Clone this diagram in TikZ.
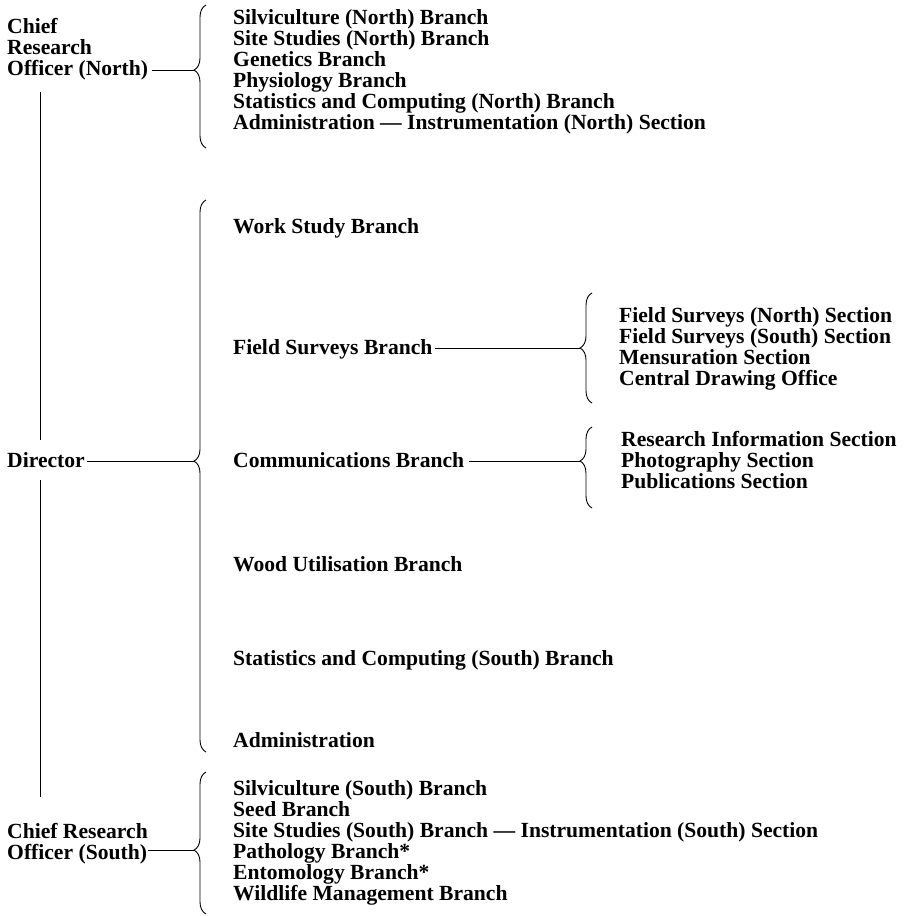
\documentclass[tikz,border=0pt]{standalone}
\usepackage{fontspec}
\setmainfont{Liberation Serif}
\usetikzlibrary{decorations.pathreplacing}
\begin{document}
\begin{tikzpicture}[x=1pt,y=-1pt,
  lbl/.style={anchor=base west,inner sep=0pt,font=\bfseries\fontsize{21.6}{21.6}\selectfont},
  conn/.style={line width=0.9pt},
  bracestyle/.style={line width=0.9pt,decorate,decoration={brace,amplitude=12pt,aspect=#1}}
]
\fill[white] (0,0) rectangle (903,916);
\useasboundingbox (0,0) rectangle (903,916);

% Chief Research Officer (North)
\node[lbl] (cn1) at (7,33) {Chief};
\node[lbl] (cn2) at (7,54) {Research};
\node[lbl] (cn3) at (7,75) {Officer (North)};
\foreach \t [count=\i] in {Silviculture (North) Branch,Site Studies (North) Branch,Genetics Branch,Physiology Branch,Statistics and Computing (North) Branch,Administration — Instrumentation (North) Section}
  \node[lbl] (nl\i) at (233,{24+21*(\i-1)}) {\t};
\coordinate (nbTop) at (206,5);
\coordinate (nbBot) at (206,148);
\coordinate (nbTip) at (194,70);
\draw[bracestyle=0.545] (nbBot) -- (nbTop);
\draw[conn] ([xshift=4pt]cn3.east |- nbTip) -- (nbTip);

% Director
\node[lbl] (dir) at (7,467) {Director};
\coordinate (v1) at (40,92);
\coordinate (v2) at (40,440);
\coordinate (v3) at (40,480);
\coordinate (v4) at (40,797);
\draw[conn] (v1) -- (v2);
\draw[conn] (v3) -- (v4);
\coordinate (dbTop) at (206,200);
\coordinate (dbBot) at (206,752);
\coordinate (dbTip) at (194,461);
\draw[bracestyle=0.527] (dbBot) -- (dbTop);
\draw[conn] ([xshift=2pt]dir.east |- dbTip) -- (dbTip);

\node[lbl] (ws) at (233,233) {Work Study Branch};
\node[lbl] (fs) at (233,354) {Field Surveys Branch};
\node[lbl] (cm) at (233,467) {Communications Branch};
\node[lbl] (wu) at (233,571) {Wood Utilisation Branch};
\node[lbl] (sc) at (233,665) {Statistics and Computing (South) Branch};
\node[lbl] (ad) at (233,747) {Administration};

% Field Surveys sections
\coordinate (fbTop) at (592,293);
\coordinate (fbBot) at (592,403);
\coordinate (fbTip) at (580,348);
\draw[bracestyle=0.5] (fbBot) -- (fbTop);
\draw[conn] ([xshift=2pt]fs.east |- fbTip) -- (fbTip);
\foreach \t [count=\i] in {Field Surveys (North) Section,Field Surveys (South) Section,Mensuration Section,Central Drawing Office}
  \node[lbl] (fl\i) at (619,{322+21*(\i-1)}) {\t};

% Communications sections
\coordinate (cbTop) at (592,427);
\coordinate (cbBot) at (592,508);
\coordinate (cbTip) at (580,461);
\draw[bracestyle=0.58] (cbBot) -- (cbTop);
\draw[conn] ([xshift=5pt]cm.east |- cbTip) -- (cbTip);
\foreach \t [count=\i] in {Research Information Section,Photography Section,Publications Section}
  \node[lbl] (cl\i) at (621,{446+21*(\i-1)}) {\t};

% Chief Research Officer (South)
\node[lbl] (cs1) at (7,838) {Chief Research};
\node[lbl] (cs2) at (7,859) {Officer (South)};
\foreach \t [count=\i] in {Silviculture (South) Branch,Seed Branch,Site Studies (South) Branch — Instrumentation (South) Section,Pathology Branch*,Entomology Branch*,Wildlife Management Branch}
  \node[lbl] (sl\i) at (233,{795+21*(\i-1)}) {\t};
\coordinate (sbTop) at (206,772);
\coordinate (sbBot) at (206,914);
\coordinate (sbTip) at (194,850);
\draw[bracestyle=0.45] (sbBot) -- (sbTop);
\draw[conn] ([xshift=1pt]cs2.east |- sbTip) -- (sbTip);
\end{tikzpicture}
\end{document}
